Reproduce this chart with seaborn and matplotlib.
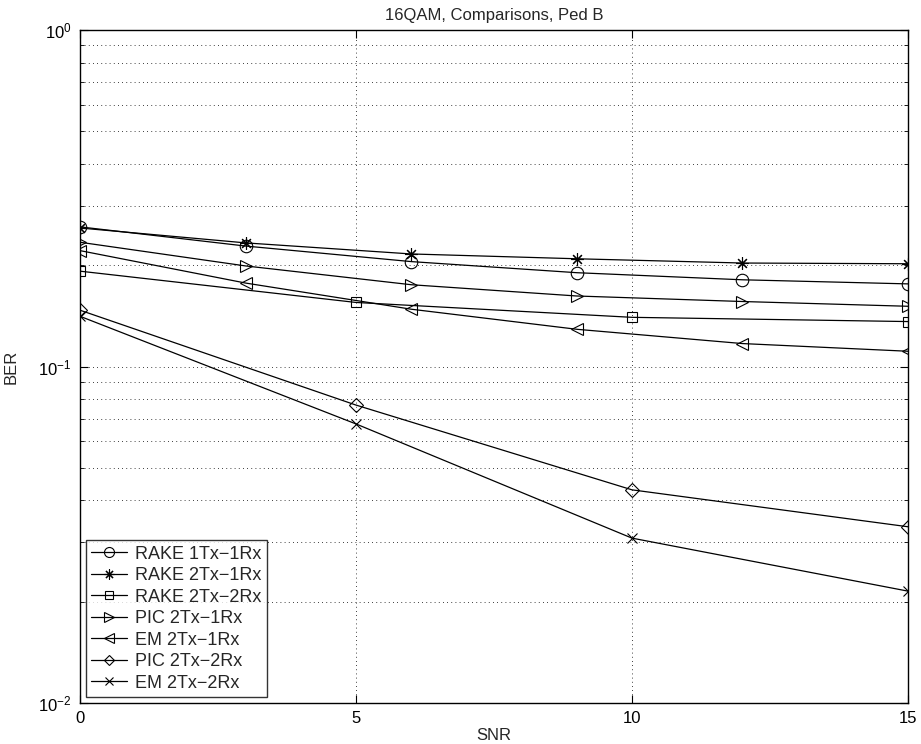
import numpy as np
import pandas as pd
import seaborn as sns
import matplotlib
matplotlib.use("Agg")
import matplotlib.pyplot as plt
from matplotlib.ticker import LogLocator, FixedLocator, NullFormatter

# BER vs SNR
snr_3 = [0, 3, 6, 9, 12, 15]
snr_5 = [0, 5, 10, 15]

rake_1tx_1rx = [0.260, 0.228, 0.205, 0.190, 0.181, 0.176]
rake_2tx_1rx = [0.258, 0.233, 0.216, 0.209, 0.203, 0.202]
rake_2tx_2rx = [0.192, 0.155, 0.140, 0.136]
pic_2tx_1rx = [0.234, 0.199, 0.175, 0.162, 0.156, 0.151]
em_2tx_1rx = [0.221, 0.177, 0.148, 0.129, 0.117, 0.111]
pic_2tx_2rx = [0.147, 0.0768, 0.0430, 0.0334]
em_2tx_2rx = [0.141, 0.0675, 0.0309, 0.0215]

series = [
    ("RAKE 1Tx\u22121Rx", snr_3, rake_1tx_1rx, "o", 9),
    ("RAKE 2Tx\u22121Rx", snr_3, rake_2tx_1rx, (8, 2, 0), 9),
    ("RAKE 2Tx\u22122Rx", snr_5, rake_2tx_2rx, "s", 7),
    ("PIC 2Tx\u22121Rx", snr_3, pic_2tx_1rx, ">", 9),
    ("EM 2Tx\u22121Rx", snr_3, em_2tx_1rx, "<", 9),
    ("PIC 2Tx\u22122Rx", snr_5, pic_2tx_2rx, "D", 7),
    ("EM 2Tx\u22122Rx", snr_5, em_2tx_2rx, "x", 7),
]

sns.set_style("ticks")
plt.rcParams['font.family'] = ['Liberation Sans', 'DejaVu Sans']
plt.rcParams['mathtext.fontset'] = 'custom'
plt.rcParams['mathtext.rm'] = 'Liberation Sans'

fig = plt.figure(figsize=(9.21, 7.44), dpi=100)
ax = fig.add_axes([80 / 921, 1 - 703 / 744, 828 / 921, 673 / 744])

for name, x, y, mk, ms in series:
    sns.lineplot(x=x, y=y, ax=ax, label=name, color="black", lw=0.9,
                 marker=mk, markersize=ms, markerfacecolor="none",
                 markeredgecolor="black", markeredgewidth=0.8)

ax.set_yscale("log")
ax.set_xlim(0, 15)
ax.set_ylim(1e-2, 1)
ax.xaxis.set_major_locator(FixedLocator([0, 5, 10, 15]))
ax.yaxis.set_major_locator(LogLocator(base=10, numticks=5))
ax.yaxis.set_minor_locator(LogLocator(base=10, subs=np.arange(2, 10), numticks=20))
ax.yaxis.set_minor_formatter(NullFormatter())

ax.grid(True, which="both", axis="y", color="black", linestyle=(0, (1, 4)), lw=0.6)
ax.grid(True, which="major", axis="x", color="black", linestyle=(0, (1, 4)), lw=0.6)

ax.tick_params(which="both", direction="in", top=True, right=True, labelsize=12, colors="black")
ax.tick_params(which="major", length=6, width=0.8, pad=6)
ax.tick_params(which="minor", length=3, width=0.6)
for sp in ax.spines.values():
    sp.set_linewidth(1.0)
    sp.set_color("black")

ax.set_title("16QAM, Comparisons, Ped B", fontsize=12, pad=7)
ax.set_xlabel("SNR", fontsize=12, labelpad=1)
ax.set_ylabel("BER", fontsize=12, labelpad=14)

leg = ax.legend(loc="lower left", fontsize=13, frameon=True, fancybox=False,
                edgecolor="black", handlelength=1.95, borderaxespad=0.33,
                labelspacing=0.25, handletextpad=0.45, borderpad=0.3,
                markerscale=0.8)
leg.get_frame().set_linewidth(1.0)

fig.savefig("out.png", dpi=100)
